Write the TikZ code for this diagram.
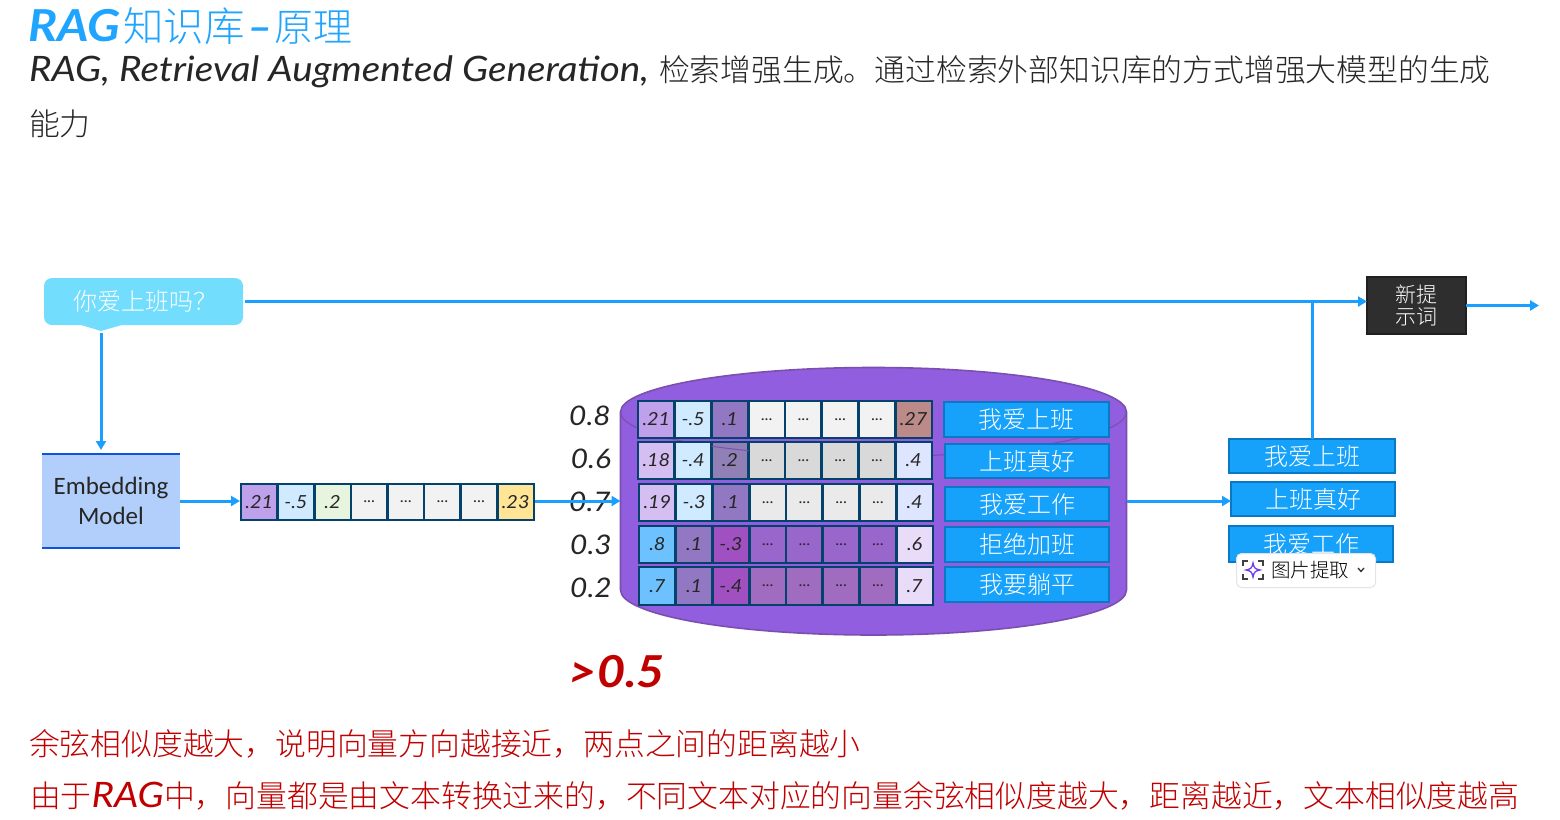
\documentclass[tikz,border=0pt]{standalone}
\usepackage{fontspec}
\usetikzlibrary{arrows.meta}
\newfontfamily\cjk{Noto Sans CJK SC}[UprightFont=* Light]
\newfontfamily\hand{Lato}[FakeStretch=1.105]
\newfontfamily\calib{Carlito}
\newcommand\fsz[1]{\fontsize{#1}{#1}\selectfont}
\newcommand\hd{\hand\itshape}
\newcommand\dd{{\upshape\fsz{15}...}}
\definecolor{flow}{HTML}{1A9FFF}
\definecolor{cellline}{HTML}{04426C}
\definecolor{cylfill}{HTML}{915EE0}
\definecolor{cylline}{HTML}{7B4FAF}
\definecolor{bluebox}{HTML}{16A1FA}
\definecolor{blueline}{HTML}{0B78C4}
\definecolor{titleblue}{HTML}{1FA5FF}
\definecolor{bodyred}{HTML}{C00000}
\definecolor{pa}{HTML}{BFA0EA}
\definecolor{pb}{HTML}{D5BFF2}
\definecolor{sky}{HTML}{D0EBFF}
\definecolor{pc}{HTML}{9278C2}
\definecolor{pd}{HTML}{9080B5}
\definecolor{ga}{HTML}{F2F2F2}
\definecolor{gb}{HTML}{D9D9D9}
\definecolor{gc}{HTML}{EAEAEA}
\definecolor{rose}{HTML}{BC8A88}
\definecolor{ice}{HTML}{DDE5FF}
\definecolor{ba}{HTML}{6EC1FF}
\definecolor{pe}{HTML}{A050C0}
\definecolor{pf}{HTML}{9966CC}
\definecolor{pg}{HTML}{A06CC0}
\definecolor{lav}{HTML}{E8DCF8}
\definecolor{mint}{HTML}{E8F5DE}
\definecolor{gold}{HTML}{FFE595}
\definecolor{ink}{HTML}{262626}
\definecolor{bubble}{HTML}{72DDFC}
\definecolor{embfill}{HTML}{B2CFFB}
\definecolor{embline}{HTML}{0D53E0}
\definecolor{npfill}{HTML}{2E2E2E}
\definecolor{npline}{HTML}{202020}
\definecolor{popline}{HTML}{E4E4E8}
\definecolor{star}{HTML}{6E3CF0}
\tikzset{
  flowline/.style={draw=flow,line width=3pt,-{Triangle[length=9pt,width=10pt]}},
  flowplain/.style={draw=flow,line width=3pt},
  cellbox/.style={draw=cellline,line width=2.6pt,inner sep=0pt,outer sep=0pt,text=ink,font=\hd\fsz{18}},
  labelbox/.style={draw=blueline,fill=bluebox,line width=2pt,inner sep=0pt,outer sep=0pt,text=white,font=\cjk\fsz{24},anchor=north west},
  simlabel/.style={text=ink,font=\hd\fsz{27},inner sep=0pt},
  linetext/.style={anchor=base west,inner sep=0pt,outer sep=0pt},
}
\newcommand\vecrow[6]{%
  \pgfmathsetmacro\cw{(#3-#2)/8}%
  \pgfmathsetmacro\ch{#5-#4}%
  \foreach \fc/\tx [count=\i] in {#6} {
    \node[cellbox,fill=\fc,anchor=north west,minimum width=\cw pt,minimum height=\ch pt]
      (#1-\i) at ({#2+(\i-1)*\cw},#4) {\tx};
  }
}
\newcommand\lbox[6]{%
  \node[labelbox,minimum width=#4pt,minimum height=#5pt] (#1) at (#2,#3) {#6};
}
\begin{document}
\begin{tikzpicture}[x=1pt,y=-1pt]
\useasboundingbox (0,0) rectangle (1560,819);
\fill[white] (0,0) rectangle (1560,819);

% headings
\node[linetext,text=titleblue] (title) at (28,41) {{\hd\bfseries\fsz{44}RAG}\hspace{3pt}{\cjk\fsz{40.5}知识库}\makebox[30pt]{\hd\bfseries\fsz{40}–}{\cjk\fsz{39}原理}};
\node[linetext,text=ink] (sub1) at (29,81) {{\hd\fsz{35}RAG, Retrieval Augmented Generation,}};
\node[linetext,text=ink] (sub2) at (659,81) {\cjk\fsz{30.8}检索增强生成。通过检索外部知识库的方式增强大模型的生成};
\node[linetext,text=ink] (sub3) at (29,135) {\cjk\fsz{30.8}能力};

% question bubble
\fill[bubble,rounded corners=8pt] (44,278) -- (243,278) -- (243,325) -- (44,325) -- cycle;
\fill[bubble] (78,324) -- (125,324) -- (101,331) -- cycle;
\node[inner sep=0pt,outer sep=0pt,minimum width=199pt,minimum height=47pt,anchor=north west,text=white,font=\cjk\fsz{24}] (q) at (44,278) {\hspace{3pt}你爱上班吗？};
\coordinate (qtip) at (101,333);

% embedding model
\node[fill=embfill,minimum width=138pt,minimum height=94pt,anchor=north west,inner sep=0pt,outer sep=0pt,align=center,text=ink,font=\calib\fsz{25}] (emb) at (42,454) {Embedding\\[5pt]Model};
\draw[line width=2.6pt,draw=embline] (emb.north west) -- (emb.north east);
\draw[line width=2.6pt,draw=embline] (emb.south west) -- (emb.south east);

% query vector
\vecrow{v}{241}{534}{484}{520}{pa/.21,sky/-.5,mint/.2,ga/\dd,ga/\dd,ga/\dd,ga/\dd,gold/.23}
\node[inner sep=0pt,outer sep=0pt,minimum width=295pt,minimum height=36pt,anchor=north west] (vec) at (240,484) {};

% cylinder
\path[fill=cylfill,draw=cylline,line width=1.6pt]
  (620.5,412) arc[x radius=253,y radius=44.5,start angle=180,end angle=360]
  -- (1126.5,590) arc[x radius=253,y radius=45,start angle=0,end angle=180] -- cycle;
\draw[cylline,line width=1.2pt] (620.5,412) arc[x radius=253,y radius=44.5,start angle=180,end angle=0];
\coordinate (cylW) at (620.5,501);
\coordinate (cylE) at (1127,501);

% stored vectors
\vecrow{a}{638}{932}{401}{438}{pa/.21,sky/-.5,pc/.1,ga/\dd,ga/\dd,ga/\dd,ga/\dd,rose/.27}
\vecrow{b}{638}{932}{442}{479}{pb/.18,sky/-.4,pd/.2,gb/\dd,gb/\dd,gb/\dd,gb/\dd,ice/.4}
\vecrow{c}{639}{933}{484}{521}{pb/.19,sky/-.3,pc/.1,gc/\dd,gc/\dd,gc/\dd,gc/\dd,ice/.4}
\vecrow{d}{639}{933}{526}{563}{ba/.8,pc/.1,pe/-.3,pf/\dd,pf/\dd,pf/\dd,pf/\dd,lav/.6}
\vecrow{e}{639}{933}{567}{605}{ba/.7,pc/.1,pe/-.4,pg/\dd,pg/\dd,pg/\dd,pg/\dd,lav/.7}
\begin{scope}
  \clip (b-3.north west) rectangle (b-3.south east);
  \draw[cylline,line width=1pt] (620.5,412) arc[x radius=253,y radius=44.5,start angle=180,end angle=0];
\end{scope}

% labels inside the cylinder
\lbox{l1}{944}{402}{165}{35}{我爱上班}
\lbox{l2}{945}{444}{164}{34}{上班真好}
\lbox{l3}{945}{487}{164}{34}{我爱工作}
\lbox{l4}{945}{527}{164}{35}{拒绝加班}
\lbox{l5}{945}{567}{164}{35}{我要躺平}

% similarity scores
\node[simlabel] (s1) at (590,416) {0.8};
\node[simlabel] (s2) at (591,459) {0.6};
\node[simlabel] (s3) at (590,502) {0.7};
\node[simlabel] (s4) at (591,545) {0.3};
\node[simlabel] (s5) at (591,588) {0.2};
\node[inner sep=0pt,text=bodyred,font=\hd\bfseries\fsz{44}] (th) at (617,672) {>0.5};

% retrieved
\lbox{r1}{1229}{439}{166}{34}{我爱上班}
\lbox{r2}{1231}{482}{164}{34}{上班真好}
\lbox{r3}{1229}{526}{164}{36}{我爱工作}

% new prompt
\node[fill=npfill,draw=npline,line width=1.5pt,minimum width=99pt,minimum height=57pt,anchor=north west,inner sep=0pt,outer sep=0pt,align=center,text=white,font=\cjk\fsz{21}] (np) at (1367,277) {新提\\[1pt]示词};
\coordinate (out) at (1539,305.5);

% connectors
\draw[flowline] ([xshift=2pt]q.east) -- (q.east -| np.west);
\draw[flowplain] (r1.north) -- (r1.north |- q.east);
\draw[flowline] (np.east) -- (out);
\draw[flowline,shorten >=4pt] (qtip) -- (qtip |- emb.north);
\draw[flowline] (emb.east) -- (emb.east -| vec.west);
\draw[flowline] (vec.east |- cylW) -- (cylW);
\draw[flowline] (cylE) -- (cylE -| r2.west);

% popup
\node[fill=white,draw=popline,line width=1pt,rounded corners=5pt,minimum width=139pt,minimum height=34pt,anchor=north west,inner sep=0pt] (pop) at (1236,553) {};
\node[anchor=west,inner sep=0pt,text=black,font=\cjk\fsz{19.5}] (poptxt) at (1271,570) {图片提取};
\draw[black!75,line width=1.3pt] (1243,566) -- (1243,561) -- (1248,561) (1258,561) -- (1263,561) -- (1263,566)
  (1263,574) -- (1263,579) -- (1258,579) (1248,579) -- (1243,579) -- (1243,574);
\draw[star,line width=1.3pt,fill=white] (1253,563) .. controls (1254,568) and (1255,569) .. (1260,570) .. controls (1255,571) and (1254,572) .. (1253,577) .. controls (1252,572) and (1251,571) .. (1246,570) .. controls (1251,569) and (1252,568) .. (1253,563) -- cycle;
\draw[black!80,line width=1.3pt] (1358,568) -- (1361,571.5) -- (1364,568);

% notes
\node[linetext,text=bodyred] (n1) at (29,755) {\cjk\fsz{30.8}余弦相似度越大，说明向量方向越接近，两点之间的距离越小};
\node[linetext,text=bodyred] (n2) at (30,807) {{\cjk\fsz{30.8}由于}{\hd\fsz{35}RAG}{\cjk\fsz{30.8}中，向量都是由文本转换过来的，不同文本对应的向量余弦相似度越大，距离越近，文本相似度越高}};
\end{tikzpicture}
\end{document}
